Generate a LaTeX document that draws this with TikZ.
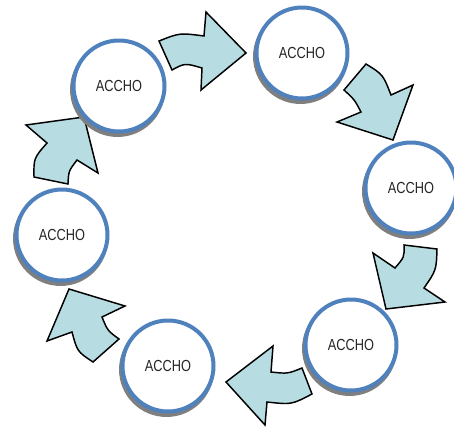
\documentclass[tikz,border=0pt]{standalone}
\usepackage{fontspec}
\usetikzlibrary{shadows}
\newfontfamily\labelfont{Liberation Sans}[FakeStretch=0.8]
\definecolor{ringblue}{HTML}{4F81BD}
\definecolor{arrowfill}{HTML}{B7DDE3}
\definecolor{shadowgray}{HTML}{7F7F7F}
\definecolor{labelgray}{HTML}{262626}
\tikzset{
  stage/.style={circle, draw=ringblue, line width=3pt, fill=white,
    minimum size=68.25pt, inner sep=0pt,
    font=\labelfont\fontsize{12pt}{14pt}\selectfont, text=labelgray,
    drop shadow={shadow xshift=-1.1pt, shadow yshift=-2.6pt, opacity=1,
      fill=shadowgray, draw=shadowgray, line width=3pt}},
  blockarrow/.style={fill=arrowfill, draw=black, line width=1.1pt, line join=miter}
}
\begin{document}
\begin{tikzpicture}[x=0.75pt, y=-0.75pt]
\useasboundingbox (0,0) rectangle (454,426);

% curved block arrows running clockwise round the cycle
\draw[blockarrow] (159,41) .. controls (179.7,32.8) .. (204,36) -- (206,12)
  -- (246,53) -- (201,90) -- (202,68) .. controls (185,63) .. (172,70) -- cycle;
\draw[blockarrow] (344,90) .. controls (354.5,99.6) .. (361,112) -- (337,122)
  -- (393,140) -- (413,85) -- (391,95) .. controls (383,74.5) .. (366,64) -- cycle;
\draw[blockarrow] (437,249) .. controls (436.3,270.2) .. (424,288) -- (445,302)
  -- (386,309) -- (373,253) -- (395,268) .. controls (404.4,257) .. (404,245) -- cycle;
\draw[blockarrow] (312,394) .. controls (291.5,404.7) .. (267,402) -- (265,425)
  -- (226,382) -- (273,346) -- (271,372) .. controls (287.7,373.8) .. (302,368) -- cycle;
\draw[blockarrow] (119,339) .. controls (107.6,330.7) .. (102,317) -- (125,306)
  -- (69,289) -- (47,341) -- (72,332) .. controls (77.3,351.6) .. (93,362) -- cycle;
\draw[blockarrow] (68,184) .. controls (68.6,171) .. (77,160) -- (98,173)
  -- (84,117) -- (26,125) -- (47,143) .. controls (33.7,158.2) .. (34,177) -- cycle;

% stages
\node[stage] (s1) at (119,86)  {ACCHO};
\node[stage] (s2) at (302,53)  {ACCHO};
\node[stage] (s3) at (411,188) {ACCHO};
\node[stage] (s4) at (351,345) {ACCHO};
\node[stage] (s5) at (168,366) {ACCHO};
\node[stage] (s6) at (62,235)  {ACCHO};
\end{tikzpicture}
\end{document}
